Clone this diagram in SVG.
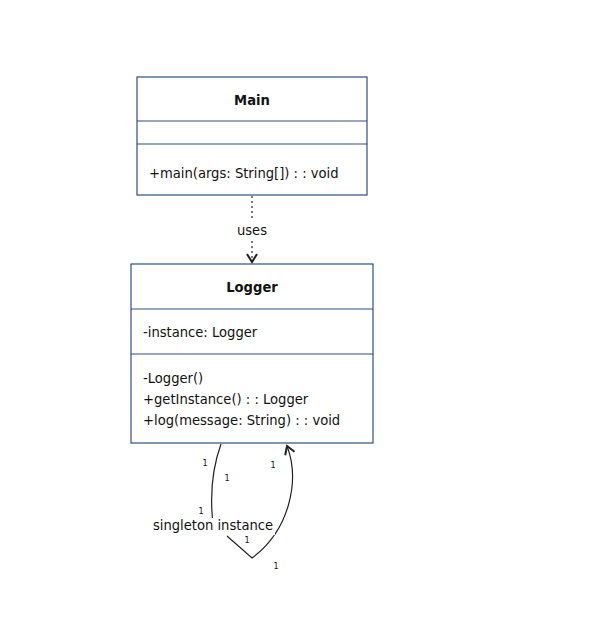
<svg xmlns="http://www.w3.org/2000/svg" width="596" height="629" viewBox="0 0 596 629">
  <style>
    .box { fill: #ffffff; stroke: #2f4f7f; stroke-width: 1.2; }
    .sep { stroke: #2f4f7f; stroke-width: 1.2; }
    text { font-family: "DejaVu Sans Condensed", "DejaVu Sans", sans-serif; font-size: 14.6px; fill: #111111; }
    .title { font-weight: bold; text-anchor: middle; }
    .mid { text-anchor: middle; }
    .mult { font-size: 9px; text-anchor: middle; }
    .edge { fill: none; stroke: #222222; stroke-width: 1.2; }
    .bg { fill: #ffffff; }
  </style>
  <defs>
    <marker id="openArrow" viewBox="0 0 12 12" refX="10" refY="6" markerWidth="12" markerHeight="12" markerUnits="userSpaceOnUse" orient="auto">
      <path d="M2,1 L10,6 L2,11" fill="none" stroke="#222222" stroke-width="2"/>
    </marker>
  </defs>
  <rect width="596" height="629" fill="#ffffff"/>

  <g id="connectors">
    <line class="edge" x1="252" y1="196" x2="252" y2="262" stroke-dasharray="2,3" marker-end="url(#openArrow)"/>
    <rect class="bg" x="236" y="219" width="33" height="20"/>
    <text class="mid" x="252" y="235">uses</text>

    <!-- self-association on Logger -->
    <path class="edge" d="M221,444 Q208,480 213,524 M227,536 L252,558 C290,530 300,480 287,446" marker-end="url(#openArrow)"/>
    <rect class="bg" x="151" y="518" width="124" height="17"/>
    <text class="mid" x="213" y="530">singleton instance</text>
    <text class="mult" x="205" y="466">1</text>
    <text class="mult" x="227" y="481">1</text>
    <text class="mult" x="273" y="468">1</text>
    <text class="mult" x="201" y="514">1</text>
    <text class="mult" x="247" y="543">1</text>
    <text class="mult" x="276" y="569">1</text>
  </g>

  <g id="Main">
    <rect class="box" x="137" y="77" width="230" height="118"/>
    <line class="sep" x1="137" y1="121" x2="367" y2="121"/>
    <line class="sep" x1="137" y1="144" x2="367" y2="144"/>
    <text class="title" x="252" y="105">Main</text>
    <text x="149" y="178">+main(args: String[]) : : void</text>
  </g>

  <g id="Logger">
    <rect class="box" x="131" y="264" width="242" height="179"/>
    <line class="sep" x1="131" y1="309" x2="373" y2="309"/>
    <line class="sep" x1="131" y1="354" x2="373" y2="354"/>
    <text class="title" x="252" y="292">Logger</text>
    <text x="143" y="337">-instance: Logger</text>
    <text x="143" y="383">-Logger()</text>
    <text x="143" y="404">+getInstance() : : Logger</text>
    <text x="143" y="425">+log(message: String) : : void</text>
  </g>
</svg>
